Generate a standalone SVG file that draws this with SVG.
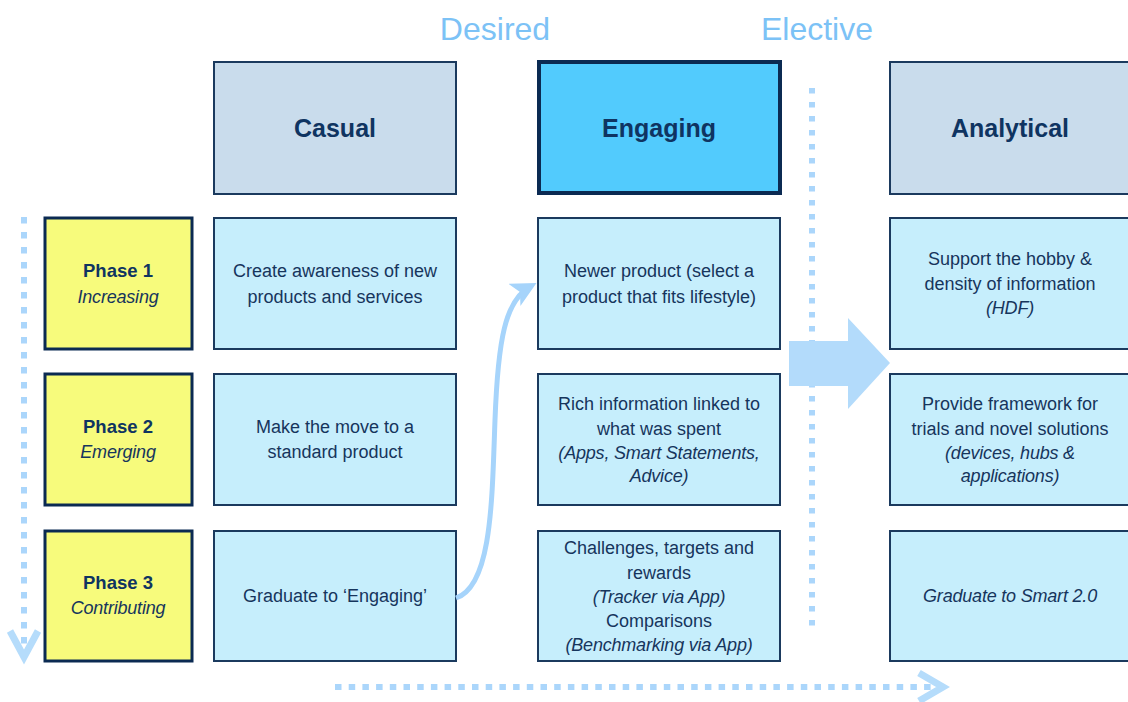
<svg xmlns="http://www.w3.org/2000/svg" width="1128" height="702" viewBox="0 0 1128 702">
  <defs>
    <style>
      .hdr { fill: #c9dcec; stroke: #1b3a5e; stroke-width: 2; }
      .hdr-hi { fill: #52cbfd; stroke: #0b2a52; stroke-width: 4; }
      .phase { fill: #f7fb7c; stroke: #0b2a52; stroke-width: 3; }
      .cell { fill: #c6eefc; stroke: #1b3a5e; stroke-width: 2; }
      text { font-family: "Liberation Sans", Arial, sans-serif; fill: #16355c; text-anchor: middle; }
      .t-hdr { font-size: 25px; font-weight: bold; fill: #0f3461; }
      .t { font-size: 18px; }
      .t-b { font-size: 18.5px; font-weight: bold; fill: #0f3461; }
      .t-i { font-size: 18px; font-style: italic; letter-spacing: -0.2px; }
      .stage { font-size: 32px; fill: #7cc2f6; }
      .dots { fill: none; stroke: #abd6fb; stroke-width: 6; }
      .chev { fill: none; stroke: #b5dcfb; stroke-width: 7; stroke-linejoin: miter; }
      .flow { fill: none; stroke: #a6d4fb; stroke-width: 5; }
    </style>
    <marker id="head" viewBox="0 0 12 12" refX="9" refY="6" markerWidth="5" markerHeight="5" orient="auto" markerUnits="strokeWidth">
      <path d="M0,0 L12,6 L0,12 L3,6 Z" fill="#a6d4fb"/>
    </marker>
  </defs>

  <!-- stage labels -->
  <text class="stage" x="495" y="40">Desired</text>
  <text class="stage" x="817" y="40">Elective</text>

  <!-- column headers -->
  <g id="casual">
    <rect class="hdr" x="214" y="62" width="242" height="132"/>
    <text class="t-hdr" x="335" y="137">Casual</text>
  </g>
  <g id="engaging">
    <rect class="hdr-hi" x="539" y="62" width="241" height="131"/>
    <text class="t-hdr" x="659" y="137">Engaging</text>
  </g>
  <g id="analytical">
    <rect class="hdr" x="890" y="62" width="242" height="132"/>
    <text class="t-hdr" x="1010" y="137">Analytical</text>
  </g>

  <!-- phase labels -->
  <g id="phase1">
    <rect class="phase" x="45" y="218" width="147" height="131"/>
    <text class="t-b" x="118" y="277">Phase 1</text>
    <text class="t-i" x="118" y="303">Increasing</text>
  </g>
  <g id="phase2">
    <rect class="phase" x="45" y="374" width="147" height="131"/>
    <text class="t-b" x="118" y="433">Phase 2</text>
    <text class="t-i" x="118" y="458">Emerging</text>
  </g>
  <g id="phase3">
    <rect class="phase" x="45" y="531" width="147" height="130"/>
    <text class="t-b" x="118" y="589">Phase 3</text>
    <text class="t-i" x="118" y="614">Contributing</text>
  </g>

  <!-- casual column -->
  <g id="casual-1">
    <rect class="cell" x="214" y="218" width="242" height="131"/>
    <text class="t" x="335" y="277">Create awareness of new</text>
    <text class="t" x="335" y="303">products and services</text>
  </g>
  <g id="casual-2">
    <rect class="cell" x="214" y="374" width="242" height="131"/>
    <text class="t" x="335" y="433">Make the move to a</text>
    <text class="t" x="335" y="458">standard product</text>
  </g>
  <g id="casual-3">
    <rect class="cell" x="214" y="531" width="242" height="130"/>
    <text class="t" x="335" y="602">Graduate to ‘Engaging’</text>
  </g>

  <!-- engaging column -->
  <g id="engaging-1">
    <rect class="cell" x="538" y="218" width="242" height="131"/>
    <text class="t" x="659" y="277">Newer product (select a</text>
    <text class="t" x="659" y="303">product that fits lifestyle)</text>
  </g>
  <g id="engaging-2">
    <rect class="cell" x="538" y="374" width="242" height="131"/>
    <text class="t" x="659" y="410">Rich information linked to</text>
    <text class="t" x="659" y="435">what was spent</text>
    <text class="t-i" x="659" y="459">(Apps, Smart Statements,</text>
    <text class="t-i" x="659" y="482">Advice)</text>
  </g>
  <g id="engaging-3">
    <rect class="cell" x="538" y="531" width="242" height="130"/>
    <text class="t" x="659" y="554">Challenges,  targets and</text>
    <text class="t" x="659" y="579">rewards</text>
    <text class="t-i" x="659" y="603">(Tracker via App)</text>
    <text class="t" x="659" y="627">Comparisons</text>
    <text class="t-i" x="659" y="651">(Benchmarking via App)</text>
  </g>

  <!-- analytical column -->
  <g id="analytical-1">
    <rect class="cell" x="890" y="218" width="242" height="131"/>
    <text class="t" x="1010" y="265">Support the hobby &amp;</text>
    <text class="t" x="1010" y="290">density of information</text>
    <text class="t-i" x="1010" y="314">(HDF)</text>
  </g>
  <g id="analytical-2">
    <rect class="cell" x="890" y="374" width="242" height="131"/>
    <text class="t" x="1010" y="410">Provide framework for</text>
    <text class="t" x="1010" y="435">trials and novel solutions</text>
    <text class="t-i" x="1010" y="459">(devices, hubs &amp;</text>
    <text class="t-i" x="1010" y="482">applications)</text>
  </g>
  <g id="analytical-3">
    <rect class="cell" x="890" y="531" width="242" height="130"/>
    <text class="t-i" x="1010" y="602">Graduate to Smart 2.0</text>
  </g>

  <!-- connectors -->
  <g id="connectors">
    <!-- phase progression, downward -->
    <line class="dots" x1="24" y1="217" x2="24" y2="645" stroke-dasharray="6.5 8.5"/>
    <polyline class="chev" points="10,631 24,657 38,631"/>
    <!-- maturity progression, rightward -->
    <line class="dots" x1="335" y1="687" x2="935" y2="687" stroke-dasharray="6.5 7.2"/>
    <polyline class="chev" points="919,673 943,687 919,701"/>
    <!-- desired / elective divider -->
    <line class="dots" x1="812" y1="88" x2="812" y2="634" stroke-dasharray="5.5 8.5"/>
    <!-- casual to engaging -->
    <path class="flow" d="M456,598 C492,586 492,500 495,420 C498,340 505,300 531,286" marker-end="url(#head)"/>
    <!-- engaging to analytical -->
    <polygon points="789,341 848,341 848,318 890,363 848,409 848,386 789,386" fill="#b3dbfb"/>
  </g>
</svg>
